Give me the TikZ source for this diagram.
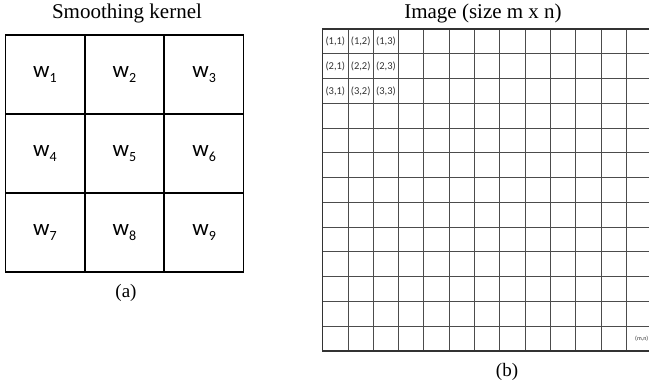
\documentclass[tikz,border=0pt]{standalone}
\usepackage{fontspec}
\setmainfont{Liberation Serif}
\newfontfamily\wfont{Carlito}
\newcommand{\wlab}[1]{{\wfont\fontsize{23}{26}\selectfont w\raisebox{-0.22em}{\fontsize{14}{16}\selectfont #1}}}
\begin{document}
\begin{tikzpicture}[x=1pt,y=-1pt,
  kcell/.style={draw=black,line width=1.2pt,minimum width=79pt,minimum height=79pt,inner sep=0pt,anchor=center},
  gline/.style={draw=black!70,line width=0.9pt},
  gborder/.style={draw=black!80,line width=1.3pt},
  ttl/.style={font=\fontsize{21}{24}\selectfont,inner sep=0pt},
  subcap/.style={font=\fontsize{19}{22}\selectfont,inner sep=0pt},
  ilab/.style={font=\wfont\fontsize{10.5}{12}\selectfont,inner sep=0pt,text=black!80}]
\useasboundingbox (0,0) rectangle (649,384);
\fill[white] (0,0) rectangle (649,384);
% kernel
\foreach \r in {0,1,2}{
  \foreach \c in {0,1,2}{
    \pgfmathtruncatemacro{\k}{3*\r+\c+1}
    \node[kcell] (k\k) at ({5+79.67*\c+39.83},{35+79*\r+39.5}) {\wlab{\k}};
  }
}
\node[ttl] (ta) at (127,13) {Smoothing kernel};
\node[subcap] (ca) at (126,293) {(a)};
% image grid
\def\gx{322.7}
\def\gy{29}
\def\cw{25.3}
\def\rh{24.77}
\foreach \j in {1,...,12}{
  \draw[gline] (\gx,{\gy+\rh*\j}) -- (649,{\gy+\rh*\j});
}
\foreach \i in {1,...,12}{
  \draw[gline] ({\gx+\cw*\i},\gy) -- ({\gx+\cw*\i},{\gy+\rh*13});
}
\draw[gborder] (649,\gy) -- (\gx,\gy) -- (\gx,{\gy+\rh*13}) -- (649,{\gy+\rh*13});
\foreach \r in {1,2,3}{
  \foreach \c in {1,2,3}{
    \node[ilab] (p\r\c) at ({\gx+\cw*(\c-0.5)},{\gy+\rh*(\r-0.5)}) {(\r,\c)};
  }
}
\node[ilab,font=\wfont\fontsize{6}{7}\selectfont,anchor=east] (pmn) at (648.5,{\gy+\rh*12.5}) {(m,n)};
\node[ttl] (tb) at (483,13) {Image (size m x n)};
\node[subcap] (cb) at (507,372) {(b)};
\end{tikzpicture}
\end{document}
